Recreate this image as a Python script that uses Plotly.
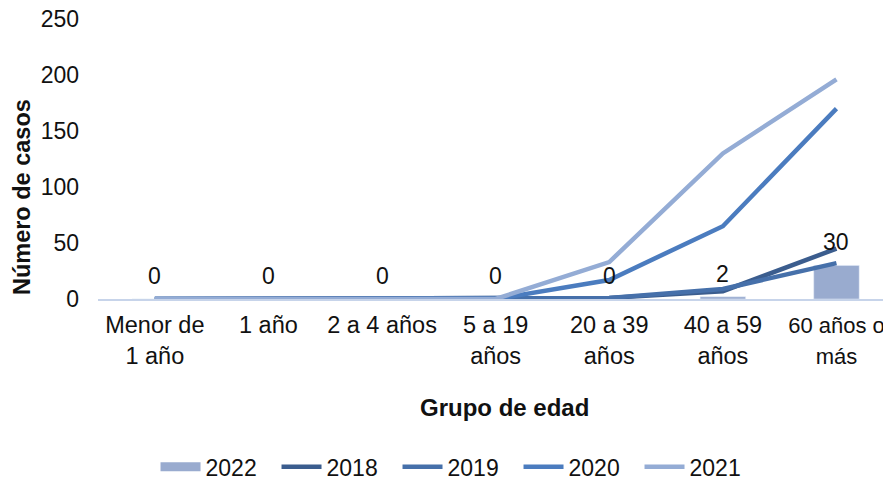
import plotly.graph_objects as go

categories = ["Menor de<br>1 año", "1 año", "2 a 4 años", "5 a 19<br>años",
              "20 a 39<br>años", "40 a 59<br>años", "60 años o<br>más"]
tick_labels = ["Menor de<br>1 año", "1 año", "2 a 4 años", "5 a 19<br>años",
               "20 a 39<br>años", "40 a 59<br>años",
               "<span style='font-size:22px'>60 años o<br>más</span>"]
y2022 = [0, 0, 0, 0, 0, 2, 30]
y2018 = [0, 0, 0, 0, 1, 7, 45]
y2019 = [0, 0, 0, 0, 1, 9, 32]
y2020 = [0, 0, 0, 0, 17, 65, 170]
y2021 = [0, 0, 0, 0, 33, 130, 196]
y_ticks = [0, 50, 100, 150, 200, 250]

FONT = "Liberation Sans, Arial, sans-serif"
C2022 = "#99abcf"
C2018 = "#3b5d8e"
C2019 = "#4670aa"
C2020 = "#4b7cbf"
C2021 = "#94acd5"
TXT = "#111"

fig = go.Figure()
fig.add_trace(go.Bar(x=categories, y=y2022, name="2022", marker_color=C2022,
                     width=0.4, showlegend=False, legendgroup="2022"))
# legend swatch for the bar series (wide bar-like swatch)
fig.add_trace(go.Scatter(x=[None], y=[None], mode="lines", name="2022",
                         line=dict(color=C2022, width=9), legendgroup="2022"))
for name, ys, col in [("2018", y2018, C2018), ("2019", y2019, C2019),
                      ("2020", y2020, C2020), ("2021", y2021, C2021)]:
    fig.add_trace(go.Scatter(x=categories, y=ys, mode="lines", name=name,
                             line=dict(color=col, width=4.5)))

# data labels of 2022 bars
for c, v in zip(categories, y2022):
    fig.add_annotation(x=c, y=v, text=str(v), showarrow=False, yanchor="middle",
                       yshift=23, font=dict(size=23, color=TXT, family=FONT))

fig.add_annotation(text="<b>Número de casos</b>", xref="paper", yref="paper",
                   x=0, y=0.364, xanchor="center", yanchor="middle", xshift=-76,
                   textangle=-90, showarrow=False,
                   font=dict(size=23.5, color=TXT, family=FONT))
fig.add_annotation(text="<b>Grupo de edad</b>", xref="paper", yref="paper",
                   x=0.5, y=-0.389, xanchor="center", yanchor="middle", xshift=10,
                   showarrow=False, font=dict(size=24, color=TXT, family=FONT))

fig.update_layout(
    width=891, height=481,
    margin=dict(l=90, r=8, t=11, b=190, autoexpand=False),
    paper_bgcolor="white", plot_bgcolor="white",
    font=dict(family=FONT, size=23, color=TXT),
    showlegend=True,
    legend=dict(orientation="h", x=0.454, xanchor="center",
                yref="container", y=0.046, yanchor="middle",
                font=dict(size=23, color=TXT),
                itemwidth=40, entrywidth=66, traceorder="normal"),
    xaxis=dict(range=[-0.5, 6.48], showline=True, linecolor="#c7d4ea", linewidth=2,
               showgrid=False, zeroline=False, ticks="", ticklabelstandoff=4,
               tickmode="array", tickvals=categories, ticktext=tick_labels,
               automargin=False, ticklabeloverflow="allow",
               tickfont=dict(size=23.5, color=TXT)),
    yaxis=dict(range=[0, 250], tickvals=y_ticks, showgrid=False, zeroline=False,
               showline=False, ticks="", ticklabelstandoff=18, automargin=False,
               ticklabeloverflow="allow", tickfont=dict(size=23, color=TXT)),
    bargap=0.6,
)

fig.write_html("out.html")
